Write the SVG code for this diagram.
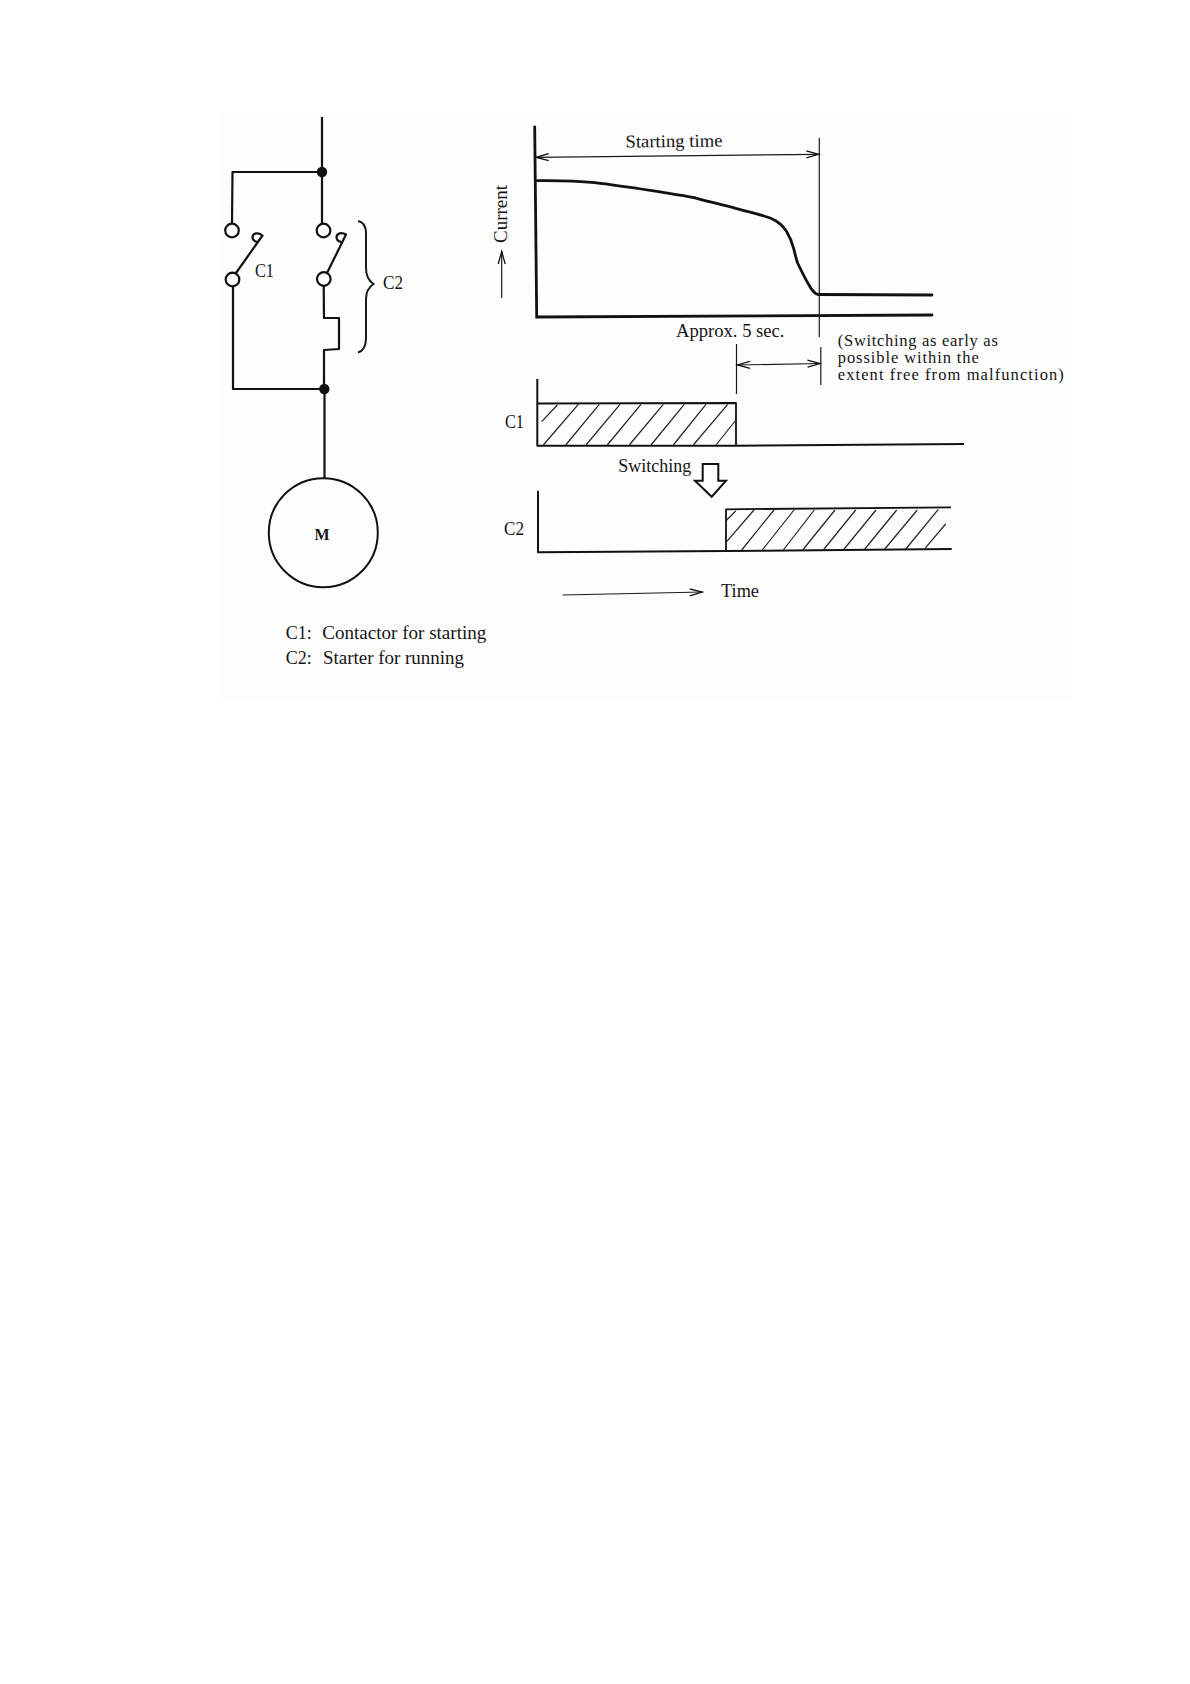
<svg xmlns="http://www.w3.org/2000/svg" width="1190" height="1684" viewBox="0 0 1190 1684">
<style>
text{font-family:"Liberation Serif","Times New Roman",serif;font-size:18px;fill:#151515}
.p{font-size:16.5px}
.w{fill:none;stroke:#111;stroke-width:2.2;stroke-linejoin:round}
.t{fill:none;stroke:#1a1a1a;stroke-width:1.2}
.a{fill:none;stroke:#111;stroke-width:2.8;stroke-linecap:round}
.h{fill:none;stroke:#222;stroke-width:1.2}
.term{fill:#fff;stroke:#111;stroke-width:2.2}
.dot{fill:#111}
.arr{marker-end:url(#open)}
.dbl{marker-start:url(#open);marker-end:url(#open)}
</style>
<defs>
<marker id="open" markerUnits="userSpaceOnUse" markerWidth="16" markerHeight="10" refX="14" refY="5" orient="auto-start-reverse">
<path d="M1 1.5 L13.5 5 L1 8.5" fill="none" stroke="#111" stroke-width="1.3"/>
</marker>
</defs>
<rect x="222" y="112" width="850" height="590" fill="#fdfdfd"/>
<g id="connectors">
<path class="w" d="M322 117V172M322 172V225"/>
<path class="w" d="M322 172H232.5L232 224"/>
<path class="w" d="M233 287V389H324"/>
<path class="w" d="M323.7 286L324 318H339V349L324 350V389"/>
<path class="w" d="M324.5 389V479"/>
</g>
<g id="contact-c1">
<circle class="term" cx="232" cy="230.5" r="6.8"/>
<circle class="term" cx="232.5" cy="279.5" r="6.8"/>
<path class="w" d="M236 273L262.5 235.5C258 232 253 233 252.5 237C252.5 240 255 241.5 257.5 242"/>
<text x="255" y="276.5" textLength="19" lengthAdjust="spacingAndGlyphs">C1</text>
</g>
<g id="contact-c2">
<circle class="term" cx="323.5" cy="230.5" r="6.8"/>
<circle class="term" cx="323.8" cy="279" r="6.8"/>
<path class="w" d="M327 273L346 234.5C341.5 232 337 233 336.5 237C336.5 240.5 339 241.5 341 242"/>
</g>
<g id="junction-top"><circle class="dot" cx="322" cy="172" r="5.2"/></g>
<g id="junction-bottom"><circle class="dot" cx="324.3" cy="389" r="5.2"/></g>
<g id="brace-c2">
<path class="t" style="stroke-width:2" d="M358 221C363 222 366 226 366 233V268C366 276 369 281 373.5 284C369 287 366 291 366 299V338C366 346 363 351 358 352.5"/>
<text x="383" y="289" textLength="20" lengthAdjust="spacingAndGlyphs">C2</text>
</g>
<g id="motor">
<circle cx="323.3" cy="532.7" r="54.5" fill="none" stroke="#111" stroke-width="2"/>
<text x="322" y="540" text-anchor="middle" style="font-weight:bold;font-size:16px">M</text>
</g>
<g id="legend">
<text x="285.7" y="639" textLength="26" lengthAdjust="spacing">C1:</text>
<text x="322.3" y="639" textLength="164" lengthAdjust="spacingAndGlyphs">Contactor for starting</text>
<text x="285.7" y="664" textLength="26" lengthAdjust="spacing">C2:</text>
<text x="323" y="664" textLength="141" lengthAdjust="spacingAndGlyphs">Starter for running</text>
</g>
<g id="current-chart">
<path class="a" d="M534.7 127L536.7 317L932 315"/>
<path class="a" d="M537.4 180.7C555 180.5 578 181 595 182.7C614 185 634 188 652 190.7C669 193.5 682 195.5 694.3 197.7C709 202 721 204.5 732.5 207.3C746 211.5 760 214 770.8 218.3C778 221.5 783 226 786.3 231C790 237 792.3 243 793.8 249C795 254 795.9 258 797.6 263C801.4 271 805.4 279 809 285C811.7 290 814.2 293.5 818 294.5L932 295"/>
<path class="t" d="M819.3 138V337M820.8 347V385"/>
<path class="t dbl" d="M535.7 157.3L819.3 154.3"/>
<text x="625.5" y="147.5" transform="rotate(-0.6 626 146)" textLength="97" lengthAdjust="spacingAndGlyphs">Starting time</text>
<text transform="translate(506.5 243) rotate(-90)" textLength="58" lengthAdjust="spacingAndGlyphs">Current</text>
<path class="t arr" d="M501.7 298V251"/>
<text x="676" y="336.5" textLength="108.5" lengthAdjust="spacingAndGlyphs">Approx. 5 sec.</text>
<path class="t" d="M736.5 344V394"/>
<path class="t dbl" d="M737 365L820.5 363.5"/>
<text class="p" x="837.8" y="345.5" textLength="160" lengthAdjust="spacing">(Switching as early as</text>
<text class="p" x="837.8" y="362.5" textLength="141" lengthAdjust="spacing">possible within the</text>
<text class="p" x="837.8" y="379.5" textLength="226" lengthAdjust="spacing">extent free from malfunction)</text>
</g>
<g id="c1-chart">
<path class="w" d="M537.3 379V445.7H736L964 444" style="stroke-width:2"/>
<path class="w" d="M537.7 403.5L736 403V446" style="stroke-width:1.8"/>
<path class="h" d="M541.7 421.7L557.3 405M543.3 445L578.3 404.3M565.7 445L599.3 404.3M586 445L620 404.3M607.3 445L641 404.3M629.3 445L663.3 404.3M651 445L684.3 404.3M673.3 445L706 404.3M693.3 445L727.7 404.3M716 445L736 420"/>
<text x="505" y="427.5" textLength="19" lengthAdjust="spacingAndGlyphs">C1</text>
</g>
<g id="switching">
<text x="618.3" y="471.5" textLength="73" lengthAdjust="spacingAndGlyphs">Switching</text>
<path fill="#fff" stroke="#111" stroke-width="2" d="M702.7 464H718.3V480.7H726L711.7 496.7L695 480.7H702.7Z"/>
</g>
<g id="c2-chart">
<path class="w" d="M538 490.7V552.3L726 551L951.7 549" style="stroke-width:2"/>
<path class="w" d="M726 551V509.3L951 507.3" style="stroke-width:1.8"/>
<path class="h" d="M726.7 520L735.7 511M726.7 541.7L754 510M741.7 550L774 510M762.3 550L794 510M783.3 550L814.3 510M802.7 550L835 510M823.3 550L855.7 510M843.3 550L876 510M864 550L896.7 510M884 550L917.3 510M905 550L938.3 509.3M925 548.3L945.7 524"/>
<text x="504" y="534.5" textLength="20" lengthAdjust="spacingAndGlyphs">C2</text>
</g>
<g id="time-axis">
<path class="t arr" d="M562.7 595L702.7 592"/>
<text x="721" y="596.7" textLength="38" lengthAdjust="spacingAndGlyphs">Time</text>
</g>
</svg>
